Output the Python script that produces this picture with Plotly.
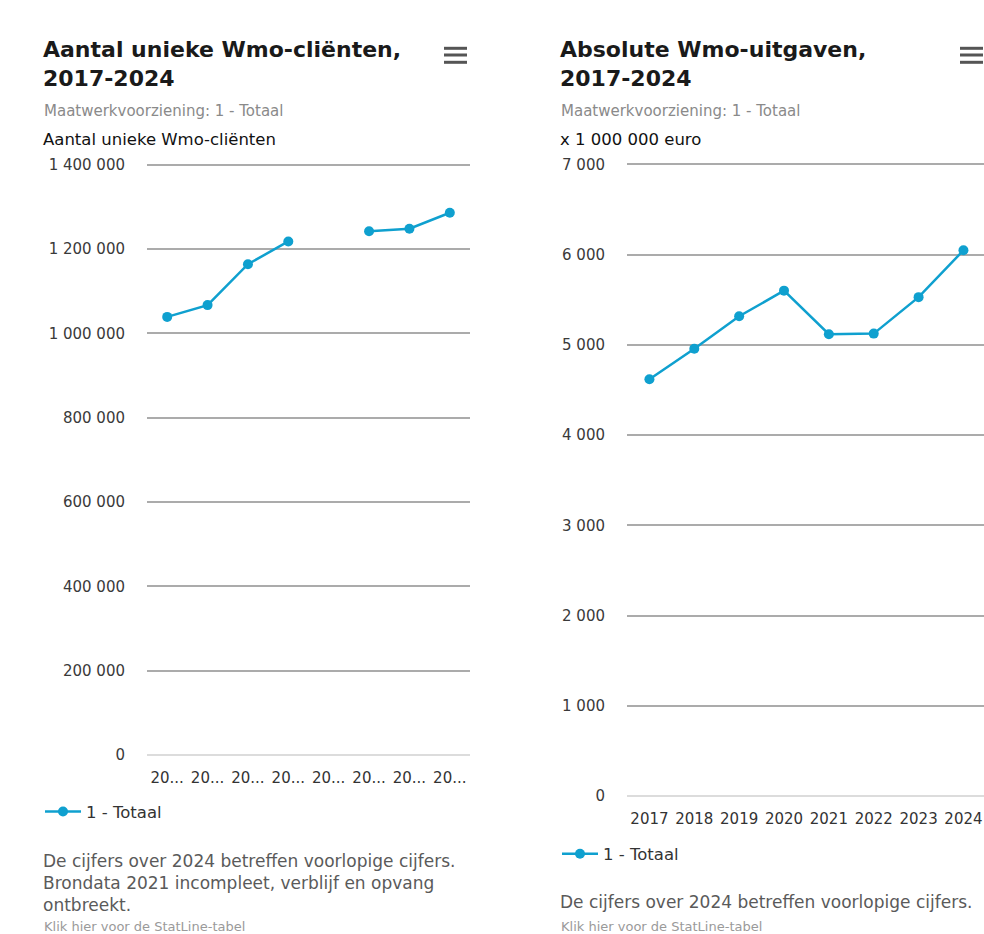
import plotly.graph_objects as go

W, H = 984, 934

years = ["2017", "2018", "2019", "2020", "2021", "2022", "2023", "2024"]
left_ticklabels = ["20...", "20...", "20...", "20...", "20...", "20...", "20...", "20..."]
right_ticklabels = ["2017", "2018", "2019", "2020", "2021", "2022", "2023", "2024"]

clients = [1039000, 1067000, 1164000, 1218000, None, 1242000, 1248000, 1286000]
spending = [4618, 4956, 5316, 5600, 5117, 5124, 5528, 6047]

left_yticks = [0, 200000, 400000, 600000, 800000, 1000000, 1200000, 1400000]
right_yticks = [0, 1000, 2000, 3000, 4000, 5000, 6000, 7000]

series_name = "1 - Totaal"
left_title = "Aantal unieke Wmo-cliënten,<br>2017-2024"
right_title = "Absolute Wmo-uitgaven,<br>2017-2024"
subtitle = "Maatwerkvoorziening: 1 - Totaal"
left_ytitle = "Aantal unieke Wmo-cliënten"
right_ytitle = "x 1 000 000 euro"
left_notes = ["De cijfers over 2024 betreffen voorlopige cijfers.",
              "Brondata 2021 incompleet, verblijf en opvang",
              "ontbreekt."]
right_notes = ["De cijfers over 2024 betreffen voorlopige cijfers."]
link_text = "Klik hier voor de StatLine-tabel"

BLUE = "#0fa0cf"
FONT = "DejaVu Sans"


def px(x):
    return x / W


def py(y):
    return 1 - y / H


fig = go.Figure()
fig.add_trace(go.Scatter(x=list(range(len(years))), y=clients, mode="lines+markers",
                         name=series_name, connectgaps=False,
                         line=dict(color=BLUE, width=2.5),
                         marker=dict(color=BLUE, size=10),
                         xaxis="x", yaxis="y", legend="legend"))
fig.add_trace(go.Scatter(x=list(range(len(years))), y=spending, mode="lines+markers",
                         name=series_name,
                         line=dict(color=BLUE, width=2.5),
                         marker=dict(color=BLUE, size=10),
                         xaxis="x2", yaxis="y2", legend="legend2"))

tickfont = dict(family=FONT, size=15, color="#3a3a3a")
common_y = dict(showgrid=True, gridcolor="#ababab", gridwidth=1.5,
                zeroline=True, zerolinecolor="#dcdcdc", zerolinewidth=1.5,
                showline=False, ticks="outside", ticklen=18,
                tickcolor="rgba(0,0,0,0)", tickfont=tickfont, automargin=False,
                fixedrange=True)
common_x = dict(showgrid=False, zeroline=False, showline=False,
                ticks="outside", ticklen=9, tickcolor="rgba(0,0,0,0)",
                tickfont=dict(family=FONT, size=15, color="#333"), automargin=False,
                tickangle=0)

fig.update_layout(
    width=W, height=H,
    margin=dict(l=0, r=0, t=0, b=0),
    paper_bgcolor="white", plot_bgcolor="white",
    separators=", ",
    font=dict(family=FONT),
    xaxis=dict(domain=[px(147), px(470)], range=[-0.5, 7.5], anchor="y",
               tickvals=list(range(len(years))), ticktext=left_ticklabels, **common_x),
    yaxis=dict(domain=[py(755), py(163.0)], range=[0, 1404000], anchor="x",
               tickvals=left_yticks, tickformat=",d", **common_y),
    xaxis2=dict(domain=[px(627), 1.0], range=[-0.5, 7.458], anchor="y2",
                tickvals=list(range(len(years))), ticktext=right_ticklabels, **common_x),
    yaxis2=dict(domain=[py(796), py(162.5)], range=[0, 7020], anchor="x2",
                tickvals=right_yticks, tickformat=",d", **common_y),
    legend=dict(x=px(40), y=py(811.7), xanchor="left", yanchor="middle",
                orientation="h", itemwidth=36,
                font=dict(family=FONT, size=16.5, color="#333"),
                bgcolor="rgba(0,0,0,0)"),
    legend2=dict(x=px(557), y=py(854), xanchor="left", yanchor="middle",
                 orientation="h", itemwidth=36,
                 font=dict(family=FONT, size=16.5, color="#333"),
                 bgcolor="rgba(0,0,0,0)"),
    showlegend=True,
)

ann = []


def text(x, y, s, size, color, bold=False, anchor="middle"):
    ann.append(dict(x=px(x), y=py(y), xref="paper", yref="paper", text=("<b>%s</b>" % s) if bold else s,
                    showarrow=False, xanchor="left", yanchor=anchor, align="left",
                    font=dict(family=FONT, size=size, color=color)))


for x0, title, ytitle, notes, note_y0 in [
        (41, left_title, left_ytitle, left_notes, 861),
        (558, right_title, right_ytitle, right_notes, 902)]:
    text(x0, 35, title, 22, "#1a1a1a", bold=True, anchor="top")
    text(x0 + 1, 111, subtitle, 15, "#8a8a8a")
    text(x0, 139, ytitle, 16.5, "#111")
    for i, line in enumerate(notes):
        text(x0, note_y0 + 22 * i, line, 17, "#5a5a5a")
    text(x0 + 1, 926, link_text, 13, "#9a9a9a")

fig.update_layout(annotations=ann)

shapes = []
for xl in (444, 960):
    for yy in (48.3, 55, 62.3):
        shapes.append(dict(type="line", xref="paper", yref="paper",
                           x0=px(xl), x1=px(xl + 23), y0=py(yy), y1=py(yy),
                           line=dict(color="#555", width=3)))
fig.update_layout(shapes=shapes)

fig.write_html("out.html")
